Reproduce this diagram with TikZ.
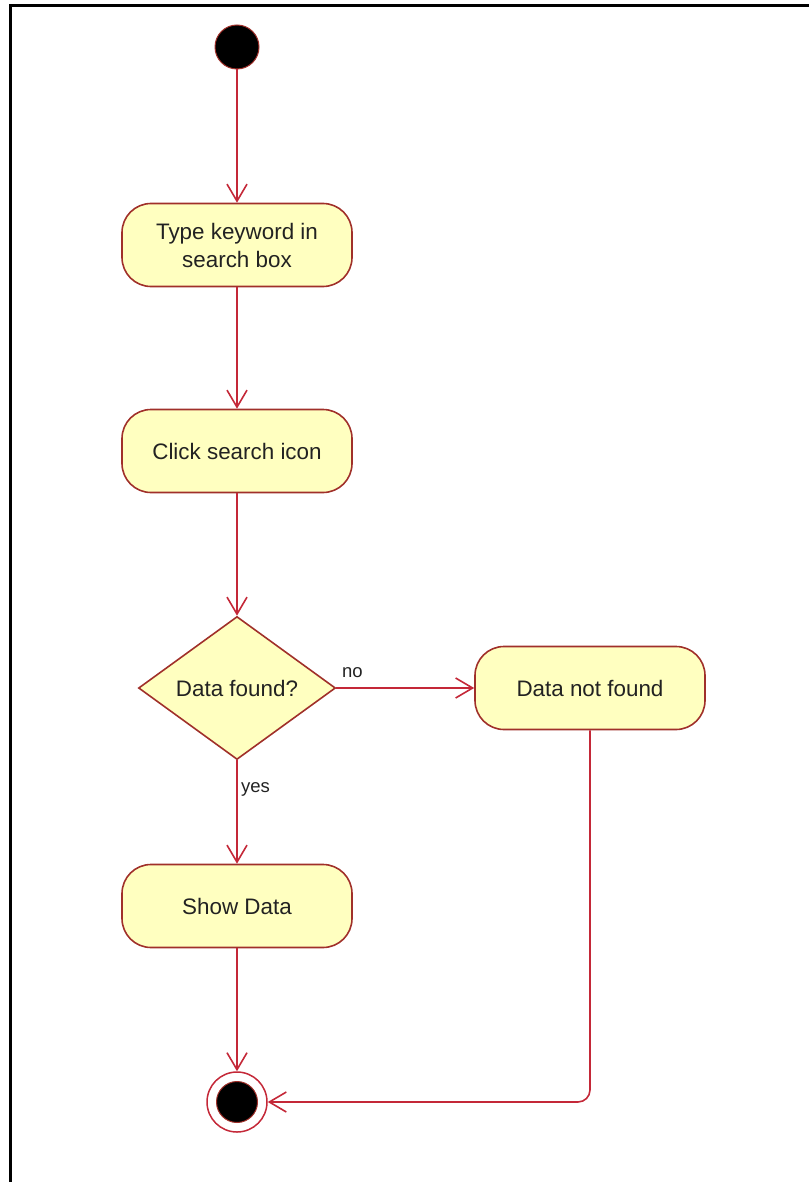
\documentclass[tikz,border=0pt]{standalone}
\usepackage{fontspec}
\setmainfont{Liberation Sans}
\usetikzlibrary{shapes.geometric,arrows.meta}
\definecolor{actfill}{HTML}{FFFFC0}
\definecolor{actedge}{HTML}{A0302A}
\definecolor{flow}{HTML}{C42838}
\definecolor{ink}{HTML}{222222}
\tikzset{
  activity/.style={rectangle, rounded corners=29pt, draw=actedge, line width=1.6pt,
    fill=actfill, minimum width=230pt, minimum height=83pt, text=ink,
    font=\fontsize{22.4}{28}\selectfont, align=center, inner sep=0pt},
  decision/.style={diamond, draw=actedge, line width=1.6pt, fill=actfill,
    minimum width=197pt, minimum height=143pt, inner sep=0pt, text=ink,
    font=\fontsize{22.4}{28}\selectfont},
  startstate/.style={circle, fill=black, draw=actedge, line width=1pt,
    minimum size=44pt, inner sep=0pt},
  endouter/.style={circle, fill=white, draw=flow, line width=1.5pt,
    minimum size=60pt, inner sep=0pt},
  endinner/.style={circle, fill=black, draw=actedge, line width=1pt,
    minimum size=41pt, inner sep=0pt},
  flowline/.style={draw=flow, line width=1.6pt,
    -{Straight Barb[length=17pt,width=20pt,line width=1.6pt]}},
  guard/.style={text=ink, font=\fontsize{18.5}{22}\selectfont, inner sep=0pt, anchor=west}
}
\begin{document}
\begin{tikzpicture}[x=1pt,y=-1pt]
  \useasboundingbox (0,0) rectangle (809,1182);
  % outer frame (top and left edges)
  \draw[line width=3pt, black] (10,1182) -- (10,6) -- (809,6);

  % nodes
  \node[startstate] (start) at (237,47) {};
  \node[activity] (type) at (237,245) {Type keyword in\\search box};
  \node[activity] (click) at (237,451) {Click search icon};
  \node[decision] (found) at (237,688) {Data found?};
  \node[activity] (notfound) at (590,688) {Data not found};
  \node[activity] (show) at (237,906) {Show Data};
  \node[endouter] (fin) at (237,1102) {};
  \node[endinner] (fincore) at (fin.center) {};

  % guard labels
  \node[guard] (lno) at (342,673) {no};
  \node[guard] (lyes) at (241,789) {yes};

  % control flows
  \draw[flowline] (start) -- (type);
  \draw[flowline] (type) -- (click);
  \draw[flowline] (click) -- (found);
  \draw[flowline] (found.east) -- (notfound.west);
  \draw[flowline] (found.south) -- (show.north);
  \draw[flowline] (show) -- (fin);
  \draw[flowline, rounded corners=12pt] (notfound.south) |- (fin.east);
\end{tikzpicture}
\end{document}
